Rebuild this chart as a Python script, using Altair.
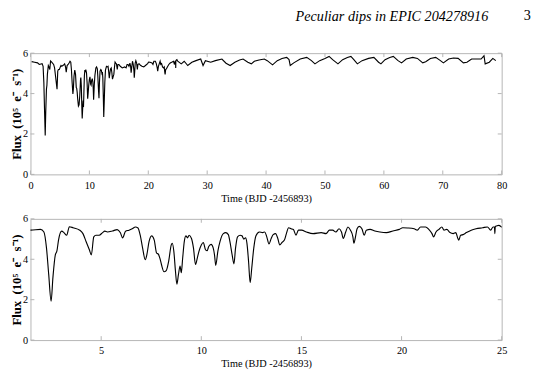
import altair as alt
import pandas as pd

# ---- data ----
t_days = [0.2, 0.7, 1.2,
    1.49, 1.97, 2.14, 2.27, 2.38, 2.50, 2.59, 2.71, 2.79, 2.87, 3.03, 3.14, 3.28, 3.41, 3.60, 3.93,
    4.09, 4.25, 4.41, 4.51, 4.63, 4.74, 4.90, 5.07, 5.18, 5.31, 5.56, 5.80, 5.96, 6.07, 6.22, 6.39,
    6.55, 6.71, 6.84, 6.95, 7.07, 7.20, 7.28, 7.39, 7.52, 7.65, 7.77, 7.85, 7.93, 8.01, 8.14, 8.25,
    8.37, 8.50, 8.55, 8.63, 8.71, 8.78, 8.86, 8.94, 9.00, 9.07, 9.15, 9.23, 9.31, 9.39, 9.51, 9.61,
    9.71, 9.80, 9.88, 10.00, 10.10, 10.21, 10.29, 10.37, 10.49, 10.59, 10.66, 10.72, 10.83, 10.94,
    11.10, 11.22, 11.35, 11.43, 11.54, 11.63, 11.71, 11.81, 11.94, 12.03, 12.13, 12.21, 12.28, 12.36,
    12.44, 12.52, 12.62, 12.73, 12.90, 13.06, 13.17, 13.27, 13.38, 13.49, 13.59, 13.71, 13.82, 13.92,
    14.03, 14.15, 14.25, 14.36, 14.48, 14.60, 14.73, 14.85, 15.01, 15.25, 15.58, 15.99, 16.23, 16.40,
    16.56, 16.72, 16.88, 17.00, 17.09, 17.21, 17.32, 17.45, 17.57, 17.62, 17.70, 17.78, 17.89, 18.02,
    18.14, 18.24, 18.43, 18.67, 18.92, 19.24, 19.57, 19.89, 20.06, 20.30, 20.63, 20.79, 20.95, 21.20,
    21.36, 21.52, 21.60, 21.72, 21.87, 22.01, 22.12, 22.26, 22.42, 22.58, 22.71, 22.80, 22.86, 22.95,
    23.07, 23.24, 23.48, 23.72, 24.05, 24.29, 24.45, 24.57, 24.64, 24.66, 24.68, 24.75, 24.86, 25.00,
    25.6, 26.1, 26.7, 27.4, 28.1, 28.9, 29.3, 29.7, 30.6, 31.4, 32.5, 33.2, 33.9, 34.7, 35.5, 36.1,
    36.9, 37.5, 38.0, 38.8, 39.7, 40.2, 41.1, 41.9, 42.7, 43.5, 43.9, 44.1, 44.7, 45.8, 46.9, 47.7,
    48.3, 49.1, 50.0, 50.7, 51.3, 52.2, 53.0, 53.8, 54.4, 54.9, 55.5, 56.3, 57.4, 58.3, 59.1, 59.5,
    60.2, 61.0, 61.6, 62.4, 63.0, 63.8, 64.9, 65.7, 66.6, 67.1, 67.9, 68.8, 69.6, 70.1, 71.0, 71.8,
    72.6, 73.5, 74.1, 74.9, 75.7, 76.5, 77.0, 77.2, 77.9, 78.5, 79.0]
flux = [5.58, 5.55, 5.52,
    5.44, 5.48, 5.35, 4.55, 3.25, 1.92, 3.09, 4.22, 4.41, 4.95, 5.39, 5.32, 5.19, 5.61, 5.56, 5.44,
    5.27, 4.87, 4.47, 4.22, 5.11, 5.19, 5.19, 5.32, 5.39, 5.35, 5.40, 5.47, 5.31, 5.06, 5.39, 5.44,
    5.51, 5.60, 5.55, 5.19, 4.55, 3.98, 4.22, 4.87, 5.16, 4.95, 4.30, 4.26, 4.06, 3.74, 3.38, 3.44,
    3.90, 4.71, 4.79, 4.38, 3.41, 2.77, 3.25, 3.66, 3.33, 4.06, 4.87, 5.16, 5.06, 5.19, 5.03, 4.55,
    3.74, 4.06, 4.38, 4.71, 4.83, 4.47, 4.42, 4.63, 4.74, 4.58, 4.22, 3.70, 4.42, 4.90,
    5.27, 5.32, 5.22, 4.87, 4.22, 3.77, 4.55, 5.11, 5.19, 5.16, 5.00, 5.06, 4.79, 3.90,
    2.84, 3.57, 4.55, 5.16, 5.35, 5.32, 5.35, 5.11, 4.76, 5.03, 5.22, 5.27, 5.03, 4.71,
    4.83, 4.95, 5.27, 5.56, 5.51, 5.47, 5.19, 5.44, 5.44, 5.35, 5.27, 5.32, 5.27, 5.44,
    5.44, 5.35, 5.51, 5.35, 5.03, 5.35, 5.60, 5.44, 5.11, 4.79, 5.11, 5.51, 5.63, 5.51,
    5.19, 5.44, 5.48, 5.40, 5.35, 5.32, 5.40, 5.48, 5.56, 5.55, 5.51, 5.44, 5.60, 5.60,
    5.48, 5.27, 5.11, 5.35, 5.48, 5.60, 5.44, 5.48, 5.32, 5.27, 5.32, 5.06, 4.95, 5.19,
    5.22, 5.32, 5.44, 5.51, 5.56, 5.60, 5.44, 5.60, 5.60, 5.27, 5.62, 5.65, 5.68, 5.60,
    5.47, 5.60, 5.39, 5.55, 5.63, 5.71, 5.39, 5.63, 5.55, 5.63, 5.71, 5.50, 5.39, 5.55, 5.66, 5.71,
    5.55, 5.47, 5.60, 5.66, 5.71, 5.63, 5.42, 5.63, 5.74, 5.79, 5.68, 5.39, 5.52, 5.71, 5.79, 5.63,
    5.47, 5.63, 5.74, 5.84, 5.68, 5.47, 5.68, 5.79, 5.84, 5.68, 5.47, 5.63, 5.74, 5.79, 5.55, 5.47,
    5.68, 5.79, 5.84, 5.63, 5.52, 5.71, 5.79, 5.74, 5.52, 5.58, 5.74, 5.79, 5.63, 5.52, 5.71, 5.76,
    5.74, 5.52, 5.55, 5.71, 5.71, 5.71, 5.87, 5.47, 5.55, 5.74, 5.63]

top_xticks = [0, 10, 20, 30, 40, 50, 60, 70, 80]
bottom_xticks = [5, 10, 15, 20, 25]
yticks = [0, 2, 4, 6]
top_xdomain = [0, 80]
bottom_xdomain = [1.47, 25]
ydomain = [0, 6]

header = "Peculiar dips in EPIC 204278916"
page_number = "3"
x_title = "Time (BJD -2456893)"
y_title = "Flux\u2002(10\u2075\u2002e\u207b\u2002s\u207b\u00b9)"

# ---- styling ----
FRAME = "#b4b4b4"
FONT = "Liberation Serif"
W, H = 482, 124
TICK = 4

df = pd.DataFrame({"t": t_days, "f": flux})


def panel(data, xdom, xticks, interp):
    xs = alt.Scale(domain=xdom, nice=False, zero=False)
    ys = alt.Scale(domain=ydomain, nice=False)
    xaxis = alt.Axis(title=x_title, values=xticks, ticks=False, tickSize=0, domain=False,
                     grid=False, labelFlush=False, labelPadding=6, titlePadding=3, format="d",
                     titleFontSize=10.5, titleFontWeight="normal")
    yaxis = alt.Axis(title=y_title, values=yticks, ticks=False, tickSize=0, domain=False,
                     grid=False, labelFlush=False, labelPadding=3, titlePadding=-1.5,
                     titleFontSize=13, titleFontWeight="bold")
    line = alt.Chart(data).mark_line(
        color="black", strokeWidth=1.15, interpolate=interp, clip=True
    ).encode(
        x=alt.X("t:Q", scale=xs, axis=xaxis),
        y=alt.Y("f:Q", scale=ys, axis=yaxis),
    )
    xt = pd.DataFrame({"t": xticks})
    yt = pd.DataFrame({"f": yticks})
    xbot = alt.Chart(xt).mark_rule(color=FRAME).encode(
        x=alt.X("t:Q", scale=xs, axis=xaxis), y=alt.value(H), y2=alt.value(H - TICK))
    xtop = alt.Chart(xt).mark_rule(color=FRAME).encode(
        x=alt.X("t:Q", scale=xs, axis=xaxis), y=alt.value(0), y2=alt.value(TICK))
    yleft = alt.Chart(yt).mark_rule(color=FRAME).encode(
        y=alt.Y("f:Q", scale=ys, axis=yaxis), x=alt.value(0), x2=alt.value(TICK))
    yright = alt.Chart(yt).mark_rule(color=FRAME).encode(
        y=alt.Y("f:Q", scale=ys, axis=yaxis), x=alt.value(W), x2=alt.value(W - TICK))
    return alt.layer(line, xbot, xtop, yleft, yright).properties(width=W, height=H)


top = panel(df, top_xdomain, top_xticks, "linear")
bottom_df = df[(df.t >= 1.2) & (df.t <= 25.6)]
bottom = panel(bottom_df, bottom_xdomain, bottom_xticks, "monotone")

chart = alt.vconcat(top, bottom, spacing=8.5).properties(
    padding={"left": 2, "top": -4, "right": 0, "bottom": 0},
    title=alt.TitleParams(
        text=header + "\u2003\u2003\u2003\u200b", subtitle=page_number, anchor="end",
        font=FONT, fontSize=14.5, fontStyle="italic", fontWeight="normal", color="black",
        subtitleFont=FONT, subtitleFontSize=14.5, subtitleFontStyle="normal",
        subtitleColor="black", subtitlePadding=-15, offset=23.5, dx=24),
).configure_view(
    stroke=FRAME, strokeWidth=1
).configure_axis(
    labelFont=FONT, labelFontSize=10.5, labelColor="black",
    titleFont=FONT, titleColor="black",
)

chart.save("out.html", embed_options={"renderer": "svg", "actions": False})
